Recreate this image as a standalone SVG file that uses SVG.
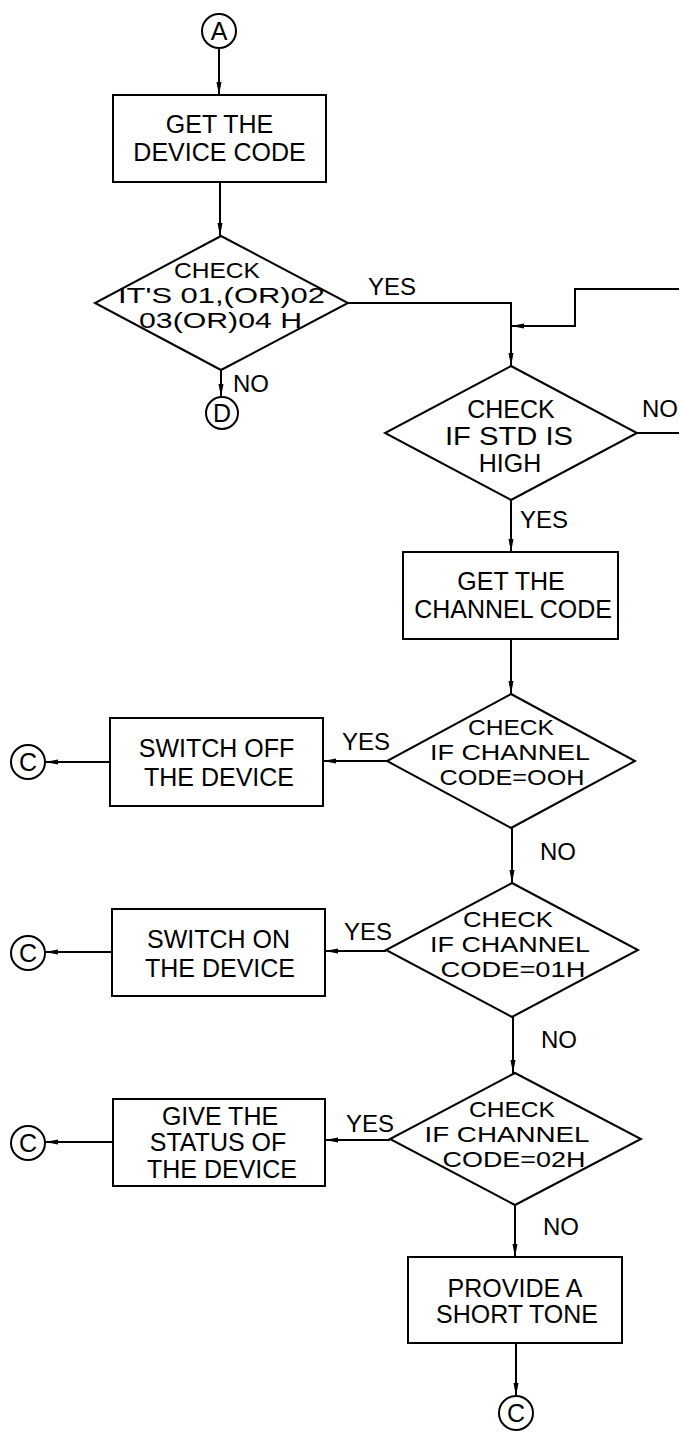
<svg xmlns="http://www.w3.org/2000/svg" width="679" height="1433" viewBox="0 0 679 1433">
<style>
.s{fill:none;stroke:#000;stroke-width:2}
.t{font-family:"Liberation Sans",Arial,sans-serif;font-size:25px;fill:#000;text-anchor:middle}
.d{font-family:"Liberation Sans",Arial,sans-serif;font-size:22px;fill:#000;text-anchor:middle}
.l{font-family:"Liberation Sans",Arial,sans-serif;font-size:24px;fill:#000}
.c{fill:#fff;stroke:#000;stroke-width:2}
</style>
<defs>
<marker id="ah" markerUnits="userSpaceOnUse" markerWidth="14" markerHeight="6" refX="13" refY="3" orient="auto">
<path d="M0,0.5 L13,3 L0,5.5 z" fill="#000"/>
</marker>
</defs>
<rect width="679" height="1433" fill="#fff"/>
<g id="connectors" class="s" marker-end="url(#ah)">
<path d="M219,48 V95"/>
<path d="M220,182 V236"/>
<path d="M221,370 V397"/>
<path d="M348,303 H511 V366"/>
<path d="M637,433 H679" marker-end="none"/>
<path d="M679,289 H575 V326 H511"/>
<path d="M511,500 V552"/>
<path d="M511,639 V694"/>
<path d="M387,761 H323"/>
<path d="M110,762 H45"/>
<path d="M512,828 V883"/>
<path d="M386,951 H325"/>
<path d="M112,952 H45"/>
<path d="M513,1017 V1073"/>
<path d="M390,1140 H325"/>
<path d="M113,1142 H45"/>
<path d="M515,1205 V1257"/>
<path d="M516,1343 V1396"/>
</g>
<g id="A"><circle class="c" cx="219" cy="31" r="17"/><text class="t" x="219" y="40">A</text></g>
<g id="box1"><rect class="s" x="113" y="95" width="213" height="87"/><text class="t" x="219.5" y="133">GET THE</text><text class="t" x="219.5" y="161">DEVICE CODE</text></g>
<g id="d1"><path class="s" d="M221,236 L348,303 L221,370 L95,303 Z"/><text class="d" x="217" y="278" textLength="86" lengthAdjust="spacingAndGlyphs">CHECK</text><text class="d" x="221.5" y="303" textLength="207" lengthAdjust="spacingAndGlyphs">IT'S 01,(OR)02</text><text class="d" x="220.5" y="328" textLength="163" lengthAdjust="spacingAndGlyphs">03(OR)04 H</text><text class="l" x="368" y="295">YES</text><text class="l" x="233" y="392">NO</text></g>
<g id="D"><circle class="c" cx="222" cy="413" r="16"/><text class="t" x="222" y="422">D</text></g>
<g id="d2"><path class="s" d="M511,366 L637,433 L511,500 L385,433 Z"/><text class="t" x="511" y="418">CHECK</text><text class="t" x="509" y="445" textLength="128" lengthAdjust="spacingAndGlyphs">IF STD IS</text><text class="t" x="510" y="472">HIGH</text><text class="l" x="642" y="417">NO</text><text class="l" x="520" y="528">YES</text></g>
<g id="box2"><rect class="s" x="403" y="552" width="215" height="87"/><text class="t" x="511" y="590">GET THE</text><text class="t" x="513" y="618">CHANNEL CODE</text></g>
<g id="d3"><path class="s" d="M511,694 L635,761 L511,828 L387,761 Z"/><text class="d" x="511" y="735" textLength="86" lengthAdjust="spacingAndGlyphs">CHECK</text><text class="d" x="510" y="760" textLength="160" lengthAdjust="spacingAndGlyphs">IF CHANNEL</text><text class="d" x="512" y="785" textLength="145" lengthAdjust="spacingAndGlyphs">CODE=OOH</text><text class="l" x="342" y="750">YES</text><text class="l" x="540" y="860">NO</text></g>
<g id="box3"><rect class="s" x="110" y="718" width="213" height="88"/><text class="t" x="216.5" y="757">SWITCH OFF</text><text class="t" x="219" y="786">THE DEVICE</text></g>
<g id="C1"><circle class="c" cx="28" cy="762" r="17"/><text class="t" x="28" y="771">C</text></g>
<g id="d4"><path class="s" d="M512,883 L638,950 L512,1017 L386,950 Z"/><text class="d" x="508" y="927" textLength="90" lengthAdjust="spacingAndGlyphs">CHECK</text><text class="d" x="510" y="952" textLength="160" lengthAdjust="spacingAndGlyphs">IF CHANNEL</text><text class="d" x="513" y="977" textLength="145" lengthAdjust="spacingAndGlyphs">CODE=01H</text><text class="l" x="344" y="940">YES</text><text class="l" x="541" y="1048">NO</text></g>
<g id="box4"><rect class="s" x="112" y="909" width="213" height="87"/><text class="t" x="218.5" y="948">SWITCH ON</text><text class="t" x="220" y="977">THE DEVICE</text></g>
<g id="C2"><circle class="c" cx="28" cy="953" r="17"/><text class="t" x="28" y="962">C</text></g>
<g id="d5"><path class="s" d="M515,1073 L641,1139 L515,1205 L390,1139 Z"/><text class="d" x="512" y="1117" textLength="86" lengthAdjust="spacingAndGlyphs">CHECK</text><text class="d" x="507" y="1142" textLength="165" lengthAdjust="spacingAndGlyphs">IF CHANNEL</text><text class="d" x="514" y="1167" textLength="143" lengthAdjust="spacingAndGlyphs">CODE=02H</text><text class="l" x="346" y="1132">YES</text><text class="l" x="543" y="1235">NO</text></g>
<g id="box5"><rect class="s" x="113" y="1099" width="212" height="87"/><text class="t" x="220" y="1125">GIVE THE</text><text class="t" x="218" y="1151">STATUS OF</text><text class="t" x="222" y="1178">THE DEVICE</text></g>
<g id="C3"><circle class="c" cx="28" cy="1143" r="17"/><text class="t" x="28" y="1152">C</text></g>
<g id="box6"><rect class="s" x="408" y="1257" width="214" height="86"/><text class="t" x="515" y="1297">PROVIDE A</text><text class="t" x="517" y="1323">SHORT TONE</text></g>
<g id="C4"><circle class="c" cx="516" cy="1413" r="17"/><text class="t" x="516" y="1422">C</text></g>
</svg>
